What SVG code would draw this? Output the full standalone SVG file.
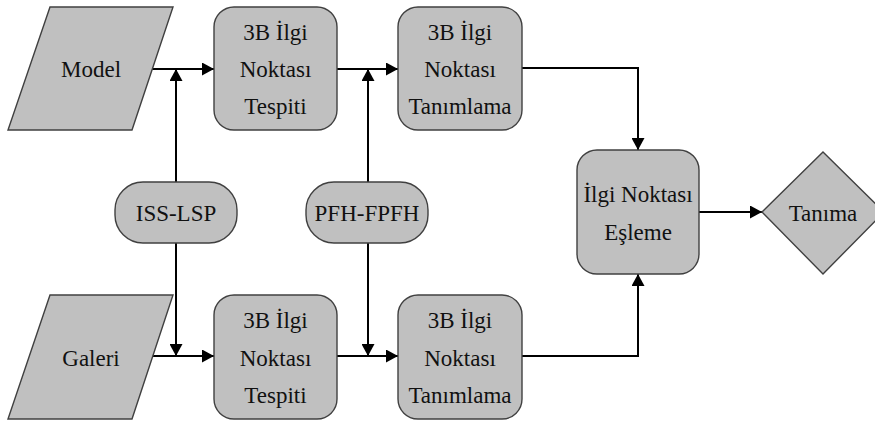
<svg xmlns="http://www.w3.org/2000/svg" width="875" height="421" viewBox="0 0 875 421">
<defs>
<style>
.shape{fill:#c0c0c0;stroke:#404040;stroke-width:1.4}
.t{font-size:23px;fill:#111;text-anchor:middle}
.c{fill:none;stroke:#000;stroke-width:2}
</style>
<marker id="ah" markerUnits="userSpaceOnUse" markerWidth="13" markerHeight="13" refX="12" refY="6.5" orient="auto">
<path d="M0,0 L12,6.5 L0,13 z" fill="#000"/>
</marker>
</defs>
<rect width="875" height="421" fill="#fff"/>
<g id="connectors">
<line class="c" x1="152" y1="69" x2="214" y2="69" marker-end="url(#ah)"/>
<line class="c" x1="176" y1="182" x2="176" y2="69" marker-end="url(#ah)"/>
<line class="c" x1="337" y1="69" x2="398" y2="69" marker-end="url(#ah)"/>
<line class="c" x1="368" y1="182" x2="368" y2="69" marker-end="url(#ah)"/>
<polyline class="c" points="522,68 638,68 638,150" marker-end="url(#ah)"/>
<line class="c" x1="699" y1="212" x2="762" y2="212" marker-end="url(#ah)"/>
<line class="c" x1="152" y1="356" x2="214" y2="356" marker-end="url(#ah)"/>
<line class="c" x1="176" y1="243" x2="176" y2="356" marker-end="url(#ah)"/>
<line class="c" x1="337" y1="356" x2="398" y2="356" marker-end="url(#ah)"/>
<line class="c" x1="368" y1="243" x2="368" y2="356" marker-end="url(#ah)"/>
<polyline class="c" points="522,356 638,356 638,274" marker-end="url(#ah)"/>
</g>
<g font-family="Liberation Serif, DejaVu Serif, serif">
<g id="model">
<polygon class="shape" points="50,7 173,7 132,130 8,130"/>
<text class="t" x="91" y="77">Model</text>
</g>
<g id="galeri">
<polygon class="shape" points="50,295 173,295 132,419 8,419"/>
<text class="t" x="91" y="366">Galeri</text>
</g>
<g id="tespit-top">
<rect class="shape" x="214" y="7" width="123" height="123" rx="20"/>
<text class="t" x="275.5" y="40">3B İlgi</text>
<text class="t" x="275.5" y="77">Noktası</text>
<text class="t" x="275.5" y="114">Tespiti</text>
</g>
<g id="tanimlama-top">
<rect class="shape" x="398" y="7" width="124" height="123" rx="20"/>
<text class="t" x="460" y="40">3B İlgi</text>
<text class="t" x="460" y="77">Noktası</text>
<text class="t" x="460" y="114">Tanımlama</text>
</g>
<g id="tespit-bottom">
<rect class="shape" x="214" y="295" width="123" height="124" rx="20"/>
<text class="t" x="275.5" y="328">3B İlgi</text>
<text class="t" x="275.5" y="366">Noktası</text>
<text class="t" x="275.5" y="403">Tespiti</text>
</g>
<g id="tanimlama-bottom">
<rect class="shape" x="398" y="295" width="124" height="124" rx="20"/>
<text class="t" x="460" y="328">3B İlgi</text>
<text class="t" x="460" y="366">Noktası</text>
<text class="t" x="460" y="403">Tanımlama</text>
</g>
<g id="iss-lsp">
<rect class="shape" x="115" y="182" width="122" height="61" rx="28"/>
<text class="t" x="176" y="221">ISS-LSP</text>
</g>
<g id="pfh-fpfh">
<rect class="shape" x="306" y="182" width="122" height="61" rx="28"/>
<text class="t" x="367" y="221">PFH-FPFH</text>
</g>
<g id="esleme">
<rect class="shape" x="577" y="150" width="122" height="124" rx="20"/>
<text class="t" x="638" y="202">İlgi Noktası</text>
<text class="t" x="638" y="240">Eşleme</text>
</g>
<g id="tanima">
<polygon class="shape" points="823,152 884,212 823,274 762,212"/>
<text class="t" x="823" y="221">Tanıma</text>
</g>
</g>
</svg>
